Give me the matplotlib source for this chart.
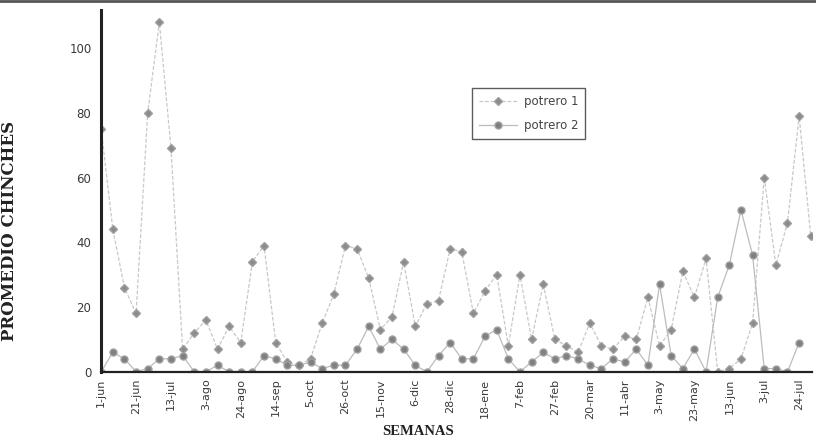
import matplotlib
matplotlib.use("Agg")
import matplotlib.pyplot as plt
from matplotlib.lines import Line2D
import numpy as np

# Week labels (every third sampling week)
tick_labels = ["1-jun", "21-jun", "13-jul", "3-ago", "24-ago", "14-sep", "5-oct",
               "26-oct", "15-nov", "6-dic", "28-dic", "18-ene", "7-feb", "27-feb",
               "20-mar", "11-abr", "3-may", "23-may", "13-jun", "3-jul", "24-jul"]

potrero1 = [75, 44, 26, 18, 80, 108, 69, 7, 12, 16, 7, 14, 9, 34, 39, 9, 3, 2, 4, 15,
            24, 39, 38, 29, 13, 17, 34, 14, 21, 22, 38, 37, 18, 25, 30, 8, 30, 10, 27, 10,
            8, 6, 15, 8, 7, 11, 10, 23, 8, 13, 31, 23, 35, 0, 1, 4, 15, 60, 33, 46,
            79, 42]
potrero2 = [0, 6, 4, 0, 1, 4, 4, 5, 0, 0, 2, 0, 0, 0, 5, 4, 2, 2, 3, 1,
            2, 2, 7, 14, 7, 10, 7, 2, 0, 5, 9, 4, 4, 11, 13, 4, 0, 3, 6, 4,
            5, 4, 2, 1, 4, 3, 7, 2, 27, 5, 1, 7, 0, 23, 33, 50, 36, 1, 1, 0,
            9]

x1 = np.arange(len(potrero1))
x2 = np.arange(len(potrero2))
tick_pos = np.arange(len(tick_labels)) * 3

fig = plt.figure(figsize=(8.16, 4.41), dpi=100)
ax = fig.add_axes([0.124, 0.157, 0.871, 0.82])

ax.plot(x1, potrero1, color="#c8c8c8", lw=0.9, ls=(0, (3, 1.5)),
        marker="D", ms=3.6, mfc="#8c8c8c", mec="#a0a0a0", label="potrero 1")
ax.plot(x2, potrero2, color="#bcbcbc", lw=0.9,
        marker="o", ms=5, mfc="#808080", mec="#a0a0a0", label="potrero 2")

ax.set_xlim(0, 61.1)
ax.set_ylim(0, 111.7)
ax.set_yticks([0, 20, 40, 60, 80, 100])
ax.set_xticks(tick_pos)
ax.set_xticklabels(tick_labels, rotation=90, fontsize=8, family="DejaVu Sans",
                   color="#3a3a3a")
for lab in ax.get_yticklabels():
    lab.set_fontsize(8.5)
    lab.set_family("DejaVu Sans")
    lab.set_color("#3a3a3a")
ax.tick_params(axis="both", length=0)
ax.tick_params(axis="y", pad=7)
ax.tick_params(axis="x", pad=5)

for s in ["top", "right"]:
    ax.spines[s].set_visible(False)
ax.spines["left"].set_linewidth(2.2)
ax.spines["left"].set_color("#222222")
ax.spines["bottom"].set_linewidth(1.6)
ax.spines["bottom"].set_color("#222222")

ax.set_ylabel("PROMEDIO CHINCHES", family="DejaVu Serif", fontweight="bold",
              fontsize=12, color="#222222")
ax.yaxis.set_label_coords(-0.117, 0.39)
ax.set_xlabel("SEMANAS", family="Liberation Serif", fontweight="bold",
              fontsize=10.5, color="#222222")
ax.xaxis.set_label_coords(0.446, -0.147)

leg = ax.legend(loc="upper left", bbox_to_anchor=(0.513, 0.80), frameon=True,
                fancybox=False, edgecolor="#333333",
                prop={"family": "DejaVu Sans", "size": 8.5},
                handlelength=3.2, borderpad=0.6, labelspacing=0.9, handletextpad=0.6)
leg.get_frame().set_linewidth(1.0)
for t in leg.get_texts():
    t.set_color("#444444")

fig.add_artist(Line2D([0, 1], [0.997, 0.997], color="#555555", lw=2))

fig.savefig("out.png", dpi=100)
